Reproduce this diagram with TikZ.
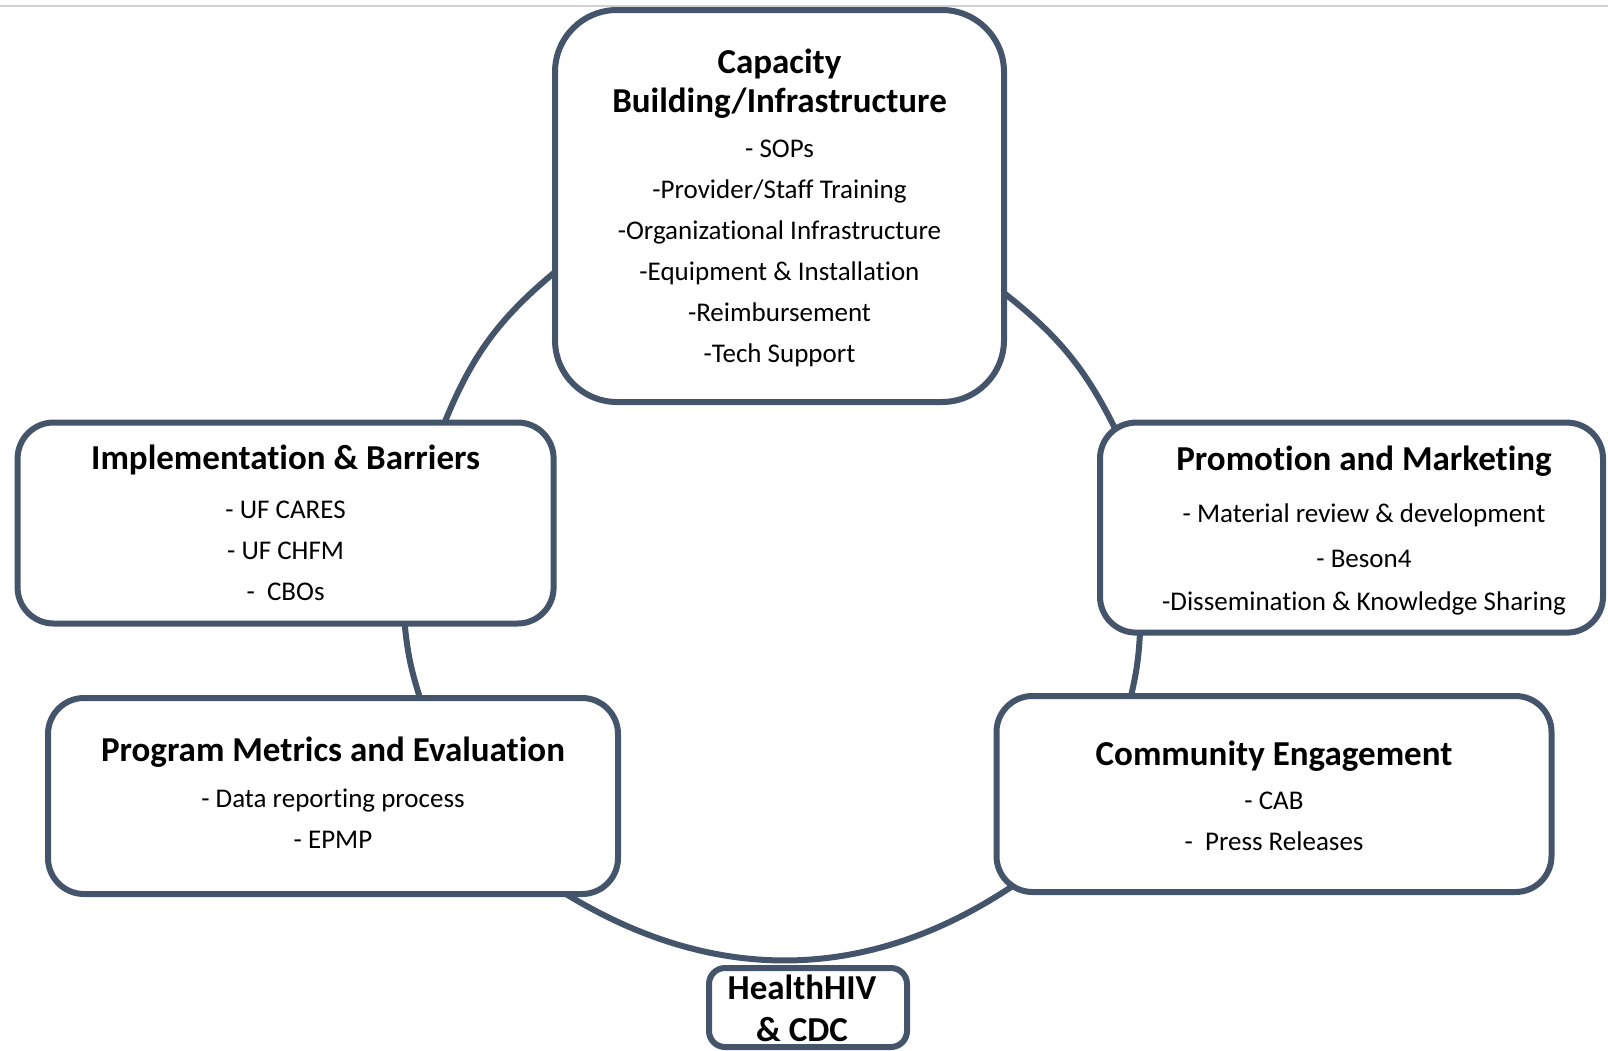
\documentclass[tikz,border=0pt]{standalone}
\usepackage{fontspec}
\setmainfont{Carlito}[Ligatures=NoCommon]
\usetikzlibrary{backgrounds}
\definecolor{slate}{HTML}{44546A}
\newcommand{\boxtitle}[1]{{\bfseries\fontsize{35}{39}\selectfont #1}}

\begin{document}
\begin{tikzpicture}[x=1pt, y=1pt,
		box/.style={draw=slate, line width=6pt, fill=white, rounded corners=36pt, inner sep=0pt, outer sep=0pt},
		txt/.style={align=center, inner sep=0pt, font=\fontsize{27}{41}\selectfont},
		ring/.style={slate, line width=6pt}]
		\useasboundingbox (0,0) rectangle (1608,-1050);
		\draw[black!18, line width=2pt] (0,-6) -- (1608,-6);

		\node[box, rounded corners=62pt, minimum width=449pt, minimum height=392pt] (cap) at (779.5,-206) {};
		\node[box, minimum width=536pt, minimum height=201pt] (impl) at (285.6,-523) {};
		\node[box, minimum width=503pt, minimum height=210pt] (promo) at (1351.5,-527.6) {};
		\node[box, minimum width=570pt, minimum height=196pt] (metric) at (333,-796) {};
		\node[box, minimum width=555pt, minimum height=196pt] (comm) at (1274,-794) {};
		\node[box, rounded corners=16pt, minimum width=198pt, minimum height=79pt] (hhiv) at (808,-1007.5) {};

		\node[txt] (captxt) at ([yshift=-1.5pt]cap.center) {\boxtitle{Capacity}\\[-2pt]\boxtitle{Building/Infrastructure}\\[4pt]- SOPs\\-Provider/Staff Training\\-Organizational Infrastructure\\-Equipment \& Installation\\-Reimbursement\\-Tech Support};
		\node[txt] (impltxt) at (impl.center) {\boxtitle{Implementation \& Barriers}\\[8pt]- UF CARES\\- UF CHFM\\-\ \ CBOs};
		\node[txt] (promotxt) at ([xshift=12.5pt,yshift=-3pt]promo.center) {\boxtitle{Promotion and Marketing}\\[11pt]- Material review \& development\\[4pt]- Beson4\\[2pt]-Dissemination \& Knowledge Sharing};
		\node[txt] (metrictxt) at ([yshift=3pt]metric.center) {\boxtitle{Program Metrics and Evaluation}\\[5pt]- Data reporting process\\- EPMP};
		\node[txt] (commtxt) at ([yshift=-2pt]comm.center) {\boxtitle{Community Engagement}\\[3pt]- CAB\\-\ \ Press Releases};
		\node[txt] (hhivtxt) at ([xshift=-6pt,yshift=-1pt]hhiv.center) {\boxtitle{HealthHIV}\\[1pt]\boxtitle{\& CDC}};

		\begin{scope}[on background layer]
			\draw[ring] ([yshift=-87pt]cap.east) to[bend left=13] ([xshift=18pt,yshift=-12pt]promo.north west);
			\draw[ring] ([xshift=-211.5pt]promo.south) to[bend left=5] ([xshift=-143pt]comm.north);
			\draw[ring] ([xshift=22pt,yshift=10pt]comm.south west) to[bend left=33] ([xshift=233pt]metric.south);
			\draw[ring] ([xshift=87pt]metric.north) to[bend left=6] ([xshift=119pt]impl.south);
			\draw[ring] ([xshift=159pt]impl.north) to[bend left=14] ([yshift=-66pt]cap.west);
		\end{scope}
	\end{tikzpicture}
\end{document}
